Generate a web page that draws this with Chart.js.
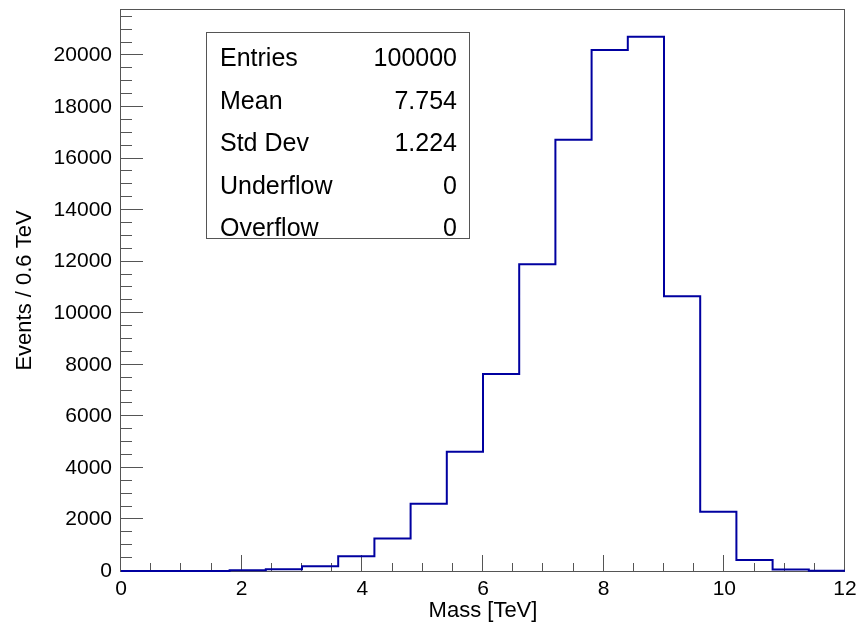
<!DOCTYPE html>
<html>
<head>
<meta charset="utf-8">
<script src="https://cdn.jsdelivr.net/npm/chart.js@4.4.1/dist/chart.umd.min.js"></script>
<style>
  html, body { margin: 0; padding: 0; background: #fff; }
  canvas { display: block; }
</style>
</head>
<body>
<canvas id="hist" width="861" height="624"></canvas>
<script>
// 20 bins of 0.6 TeV between 0 and 12 TeV
const binLowEdges = [0, 0.6, 1.2, 1.8, 2.4, 3.0, 3.6, 4.2, 4.8, 5.4,
                     6.0, 6.6, 7.2, 7.8, 8.4, 9.0, 9.6, 10.2, 10.8, 11.4];
const binUpperEdge = 12;
const binCounts = [0, 0, 0, 25, 70, 185, 575, 1260, 2610, 4625,
                   7640, 11895, 16730, 20210, 20725, 10660, 2300, 430, 55, 5];

const xMajorTicks = [0, 2, 4, 6, 8, 10, 12];
const yMajorTicks = [0, 2000, 4000, 6000, 8000, 10000, 12000, 14000, 16000, 18000, 20000];

const statNames = ['Entries', 'Mean', 'Std Dev', 'Underflow', 'Overflow'];
const statValues = ['100000', '7.754', '1.224', '0', '0'];

const FONT = '"Liberation Sans", Helvetica, Arial, sans-serif';
const FRAME = '#555';

// stepped outline: one point per lower edge plus the closing upper edge
const points = binLowEdges.map((x, i) => ({ x: x, y: binCounts[i] }));
points.push({ x: binUpperEdge, y: binCounts[binCounts.length - 1] });

const yMax = Math.max(...binCounts) * 1.05;

// frame, inward ticks (ROOT style) and the stats box
const rootStyle = {
  id: 'rootStyle',
  beforeDatasetsDraw(chart) {
    const { ctx, chartArea: a, scales } = chart;
    const xs = scales.x, ys = scales.y;
    ctx.save();
    ctx.strokeStyle = FRAME;
    ctx.lineWidth = 1;
    ctx.strokeRect(Math.round(a.left) - 0.5, Math.round(a.top) - 0.5,
                   Math.round(a.right - a.left), Math.round(a.bottom - a.top) + 1);

    ctx.beginPath();
    for (let v = 0; v <= 12.001; v += 0.5) {
      const px = Math.round(xs.getPixelForValue(v)) - 0.5;
      const len = xMajorTicks.includes(Math.round(v * 10) / 10) ? 16 : 8;
      ctx.moveTo(px, a.bottom);
      ctx.lineTo(px, a.bottom - len);
    }
    for (let v = 0; v <= yMax; v += 500) {
      const py = Math.round(ys.getPixelForValue(v)) - 0.5;
      const len = yMajorTicks.includes(v) ? 22 : 11;
      ctx.moveTo(a.left, py);
      ctx.lineTo(a.left + len, py);
    }
    ctx.stroke();
    ctx.restore();
  },
  afterDraw(chart) {
    const ctx = chart.ctx;
    const box = { x: 206.5, y: 32.5, w: 263, h: 206 };
    ctx.save();
    ctx.fillStyle = '#fff';
    ctx.fillRect(box.x, box.y, box.w, box.h);
    ctx.strokeStyle = FRAME;
    ctx.lineWidth = 1;
    ctx.strokeRect(box.x, box.y, box.w, box.h);
    ctx.fillStyle = '#000';
    ctx.font = '25px ' + FONT;
    ctx.textBaseline = 'alphabetic';
    statNames.forEach((name, i) => {
      const y = 66 + i * 42.5;
      ctx.textAlign = 'left';
      ctx.fillText(name, 220, y);
      ctx.textAlign = 'right';
      ctx.fillText(statValues[i], 457, y);
    });
    ctx.restore();
  }
};

new Chart(document.getElementById('hist'), {
  type: 'line',
  data: {
    datasets: [{
      data: points,
      stepped: 'before',
      borderColor: '#0000a0',
      borderWidth: 2,
      pointRadius: 0,
      fill: false,
      clip: 4
    }]
  },
  options: {
    responsive: false,
    animation: false,
    layout: { padding: { top: 10, right: 16, bottom: 0, left: 0 } },
    plugins: { legend: { display: false }, tooltip: { enabled: false } },
    scales: {
      x: {
        type: 'linear',
        min: 0,
        max: 12,
        afterFit(s) { s.height = 53; s.paddingLeft = 0; s.paddingRight = 0; },
        afterBuildTicks(s) { s.ticks = xMajorTicks.map(v => ({ value: v })); },
        grid: { display: false, drawTicks: false },
        border: { display: false },
        ticks: {
          padding: 6,
          color: '#000',
          maxRotation: 0,
          autoSkip: false,
          font: { family: FONT, size: 21 },
          callback: (v) => String(v)
        },
        title: {
          display: true,
          text: 'Mass [TeV]',
          color: '#000',
          font: { family: FONT, size: 22 },
          padding: { top: 0, bottom: 0 }
        }
      },
      y: {
        type: 'linear',
        min: 0,
        max: yMax,
        afterFit(s) { s.width = 121; s.paddingTop = 0; s.paddingBottom = 0; },
        afterBuildTicks(s) { s.ticks = yMajorTicks.map(v => ({ value: v })); },
        grid: { display: false, drawTicks: false },
        border: { display: false },
        ticks: {
          padding: 9,
          color: '#000',
          autoSkip: false,
          font: { family: FONT, size: 21 },
          callback: (v) => String(v)
        },
        title: {
          display: true,
          text: 'Events / 0.6 TeV',
          color: '#000',
          font: { family: FONT, size: 22 },
          padding: { top: 12, bottom: 0 }
        }
      }
    }
  },
  plugins: [rootStyle]
});
</script>
</body>
</html>
